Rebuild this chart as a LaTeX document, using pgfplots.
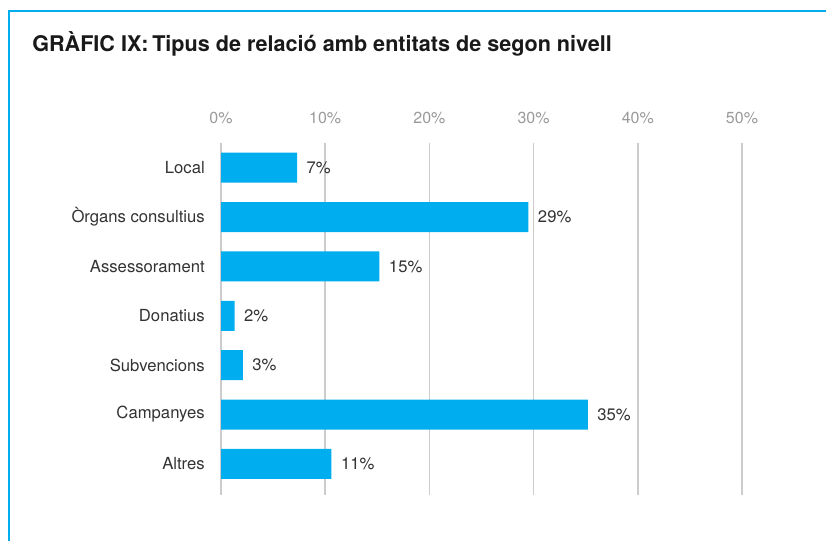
\documentclass[border=0pt]{standalone}
\usepackage{pgfplots}
\pgfplotsset{compat=1.18}
\usepackage{fontspec}
\setmainfont{TeX Gyre Heros}
\definecolor{barblue}{HTML}{00AEEF}
\definecolor{gridgray}{HTML}{CCCCCC}
\definecolor{tickgray}{HTML}{9A9A9A}
\definecolor{textdark}{HTML}{333333}
\begin{document}
\begin{tikzpicture}
% page = 826 x 541 px, 1px = 0.75pt
\path[use as bounding box] (0,0) rectangle (619.5pt,405.75pt);
\draw[barblue, line width=1.5pt] (6.75pt,0) -- (6.75pt,397.5pt) -- (619.5pt,397.5pt);
\node[anchor=base west, inner sep=0pt, font=\bfseries\fontsize{16.2}{19}\selectfont, text=black!90]
  at (24pt,366.75pt) {GRÀFIC IX:\,Tipus de relació amb entitats de segon nivell};
\begin{axis}[
    at={(165.75pt,298.5pt)}, anchor=north west,
    scale only axis,
    width=390.75pt, height=264pt,
    xmin=0, xmax=50,
    ymin=-0.5, ymax=6.63,
    y dir=reverse,
    xbar, bar width=22.5pt, bar shift=0pt,
    axis line style={draw=none},
    major tick length=0pt,
    xtick={0,10,20,30,40,50},
    xticklabel pos=right,
    xticklabel={\pgfmathprintnumber{\tick}\%},
    xticklabel style={anchor=base, inner sep=0pt, yshift=14.25pt, text=tickgray,
        font=\fontsize{12}{14}\selectfont},
    ytick={0,1,2,3,4,5,6},
    yticklabels={Local, Òrgans consultius, Assessorament, Donatius, Subvencions, Campanyes, Altres},
    yticklabel style={anchor=east, inner sep=0pt, xshift=-12pt, text=textdark,
        font=\fontsize{12.5}{14}\selectfont},
    xmajorgrids=true,
    grid style={gridgray, line width=1.2pt},
    /pgf/number format/assume math mode=true,
    point meta=explicit symbolic,
    nodes near coords,
    nodes near coords style={anchor=west, inner sep=0pt, xshift=7pt, text=textdark,
        font=\fontsize{12.5}{14}\selectfont},
]
\addplot[fill=barblue, draw=none] coordinates {
    (7.3,0) [7\%]
    (29.5,1) [29\%]
    (15.2,2) [15\%]
    (1.3,3) [2\%]
    (2.1,4) [3\%]
    (35.2,5) [35\%]
    (10.6,6) [11\%]
};
\end{axis}
\end{tikzpicture}
\end{document}
